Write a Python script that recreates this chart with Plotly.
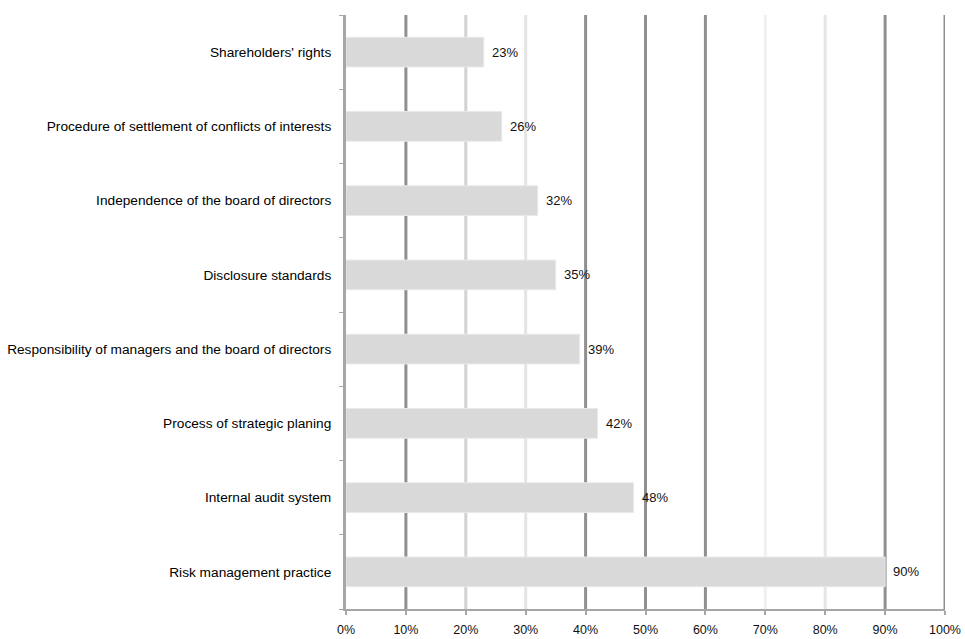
import plotly.graph_objects as go

# Survey results: share of respondents naming each governance area
categories = [
    "Risk management practice",
    "Internal audit system",
    "Process of strategic planing",
    "Responsibility of managers and the board of directors",
    "Disclosure standards",
    "Independence of the board of directors",
    "Procedure of settlement of conflicts of interests",
    "Shareholders' rights",
]
values = [90, 48, 42, 39, 35, 32, 26, 23]
tick_values = [0, 10, 20, 30, 40, 50, 60, 70, 80, 90, 100]
tick_labels = ["0%", "10%", "20%", "30%", "40%", "50%", "60%", "70%", "80%", "90%", "100%"]
grid_colors = ["#a6a6a6", "#8f8f8f", "#d2d2d2", "#e4e4e4", "#8f8f8f", "#8f8f8f",
               "#8f8f8f", "#f0f0f0", "#e6e6e6", "#8f8f8f", "#8f8f8f"]

font_family = "Arial, Liberation Sans, sans-serif"

fig = go.Figure()
fig.add_trace(go.Bar(
    x=values,
    y=categories,
    orientation="h",
    marker=dict(color="#d9d9d9", line=dict(color="#e9e9e9", width=1)),
    hoverinfo="x+y",
))

# vertical gridlines drawn beneath the bars
for tv, col in zip(tick_values[1:], grid_colors[1:]):
    fig.add_shape(type="line", xref="x", yref="paper", x0=tv, x1=tv, y0=0, y1=1,
                  line=dict(color=col, width=3), layer="below")

# value labels to the right of each bar
for c, v in zip(categories, values):
    fig.add_annotation(x=v, y=c, text=f"{v}%", showarrow=False, xanchor="left",
                       xshift=6, font=dict(family=font_family, size=13, color="#111"))

fig.update_layout(
    width=965, height=639,
    margin=dict(l=346, r=20, t=15, b=30),
    paper_bgcolor="white", plot_bgcolor="white",
    bargap=0.6,
    showlegend=False,
    font=dict(family=font_family, size=12, color="#000"),
)
fig.update_xaxes(
    range=[0, 100], tickvals=tick_values, ticktext=tick_labels,
    showgrid=False, zeroline=False, automargin=False,
    showline=True, linecolor="#a6a6a6", linewidth=2,
    ticks="outside", ticklen=4, tickcolor="#a6a6a6", tickwidth=2,
    ticklabelstandoff=4,
    tickfont=dict(family=font_family, size=12.5, color="#111"),
)
fig.update_yaxes(
    type="category", categoryorder="array", categoryarray=categories,
    showgrid=False, zeroline=False, automargin=False,
    showline=True, linecolor="#a6a6a6", linewidth=3,
    ticks="outside", tickson="boundaries", ticklen=4, tickcolor="#a6a6a6", tickwidth=1,
    ticklabelstandoff=9,
    tickfont=dict(family=font_family, size=13.7, color="#000"),
)

fig.write_html("out.html")
